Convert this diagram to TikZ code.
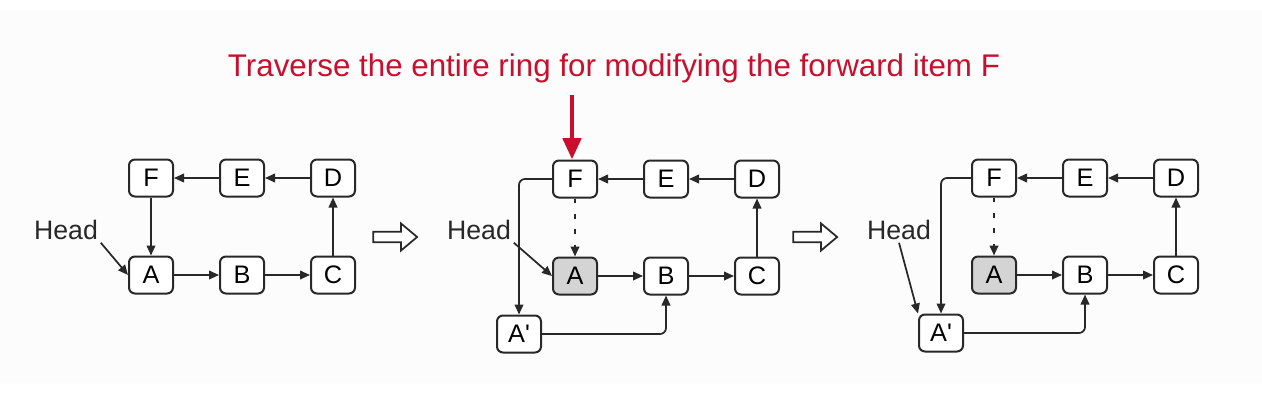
\documentclass[tikz,border=0pt]{standalone}
\usepackage{fontspec}
\setmainfont{Liberation Sans}
\usetikzlibrary{arrows.meta,positioning,calc,shapes.arrows}
\definecolor{ink}{RGB}{40,40,40}
\definecolor{paper}{RGB}{252,252,252}
\definecolor{shade}{RGB}{212,212,212}
\definecolor{cue}{RGB}{200,16,46}
\tikzset{
  item/.style={draw=ink,rounded corners=4.5pt,fill=white,line width=1.5pt,
    minimum width=33pt,minimum height=27.75pt,inner sep=0pt,
    font=\fontsize{19}{19}\selectfont},
  old/.style={item,fill=shade},
  arr/.style={-{Triangle[length=7.5pt,width=6.5pt]},line width=1.3pt,ink},
  link/.style={arr,rounded corners=4.5pt},
  skip/.style={arr,dash pattern=on 3.5pt off 8pt},
  lbl/.style={font=\fontsize{20}{20}\selectfont,text=ink,inner sep=2pt},
  go/.style={single arrow,draw=ink,line width=1.3pt,fill=white,
    minimum height=33pt,single arrow head extend=6.2pt,
    single arrow tip angle=80,inner sep=3.3pt},
  cuearr/.style={-{Triangle[length=16pt,width=13.5pt]},line width=3.5pt,cue},
}
\newcommand{\Aprime}{A\textquotesingle}

\begin{document}
\begin{tikzpicture}[x=0.75pt,y=-0.75pt,node distance=43.5pt and 33.75pt]
  \useasboundingbox (0,0) rectangle (1262,400);
  \fill[paper] (0,10) rectangle (1262,383);

  \node[text=cue,font=\fontsize{23.5}{24}\selectfont] (title) at (614,68)
    {Traverse the entire ring for modifying the forward item F};

  % ring before
  \node[item] (f1) at (151,178) {F};
  \node[item,right=of f1] (e1) {E};
  \node[item,right=of e1] (d1) {D};
  \node[item,below=of f1] (a1) {A};
  \node[item,right=of a1] (b1) {B};
  \node[item,right=of b1] (c1) {C};
  \node[lbl] (head1) at (66,230) {Head};
  \draw[arr] (a1) -- (b1);
  \draw[arr] (b1) -- (c1);
  \draw[arr] (c1) -- (d1);
  \draw[arr] (d1) -- (e1);
  \draw[arr] (e1) -- (f1);
  \draw[arr] (f1) -- (a1);
  \draw[arr] (head1.south east) -- (a1.west);

  \node[go] (go1) at (392,237) {};

  % copy A' spliced in
  \node[item] (f2) at (575,179) {F};
  \node[item,right=of f2] (e2) {E};
  \node[item,right=of e2] (d2) {D};
  \node[old,below=of f2] (a2) {A};
  \node[item,right=of a2] (b2) {B};
  \node[item,right=of b2] (c2) {C};
  \node[item] (ap2) at (519,334) {\Aprime};
  \node[lbl] (head2) at (479,230) {Head};
  \draw[arr] (a2) -- (b2);
  \draw[arr] (b2) -- (c2);
  \draw[arr] (c2) -- (d2);
  \draw[arr] (d2) -- (e2);
  \draw[arr] (e2) -- (f2);
  \draw[skip] (f2) -- (a2);
  \draw[link] (f2.west) -| (ap2.north);
  \draw[link] (ap2.east) -| (b2.south);
  \draw[arr] (head2.south east) -- (a2.west);
  \coordinate (probe) at (572,95);
  \draw[cuearr] (probe) -- (probe |- f2.north);

  \node[go] (go2) at (812,237) {};

  % head moved to A'
  \node[item] (f3) at (994,178) {F};
  \node[item,right=of f3] (e3) {E};
  \node[item,right=of e3] (d3) {D};
  \node[old,below=of f3] (a3) {A};
  \node[item,right=of a3] (b3) {B};
  \node[item,right=of b3] (c3) {C};
  \node[item] (ap3) at (941,333) {\Aprime};
  \node[lbl] (head3) at (899,230) {Head};
  \draw[arr] (a3) -- (b3);
  \draw[arr] (b3) -- (c3);
  \draw[arr] (c3) -- (d3);
  \draw[arr] (d3) -- (e3);
  \draw[arr] (e3) -- (f3);
  \draw[skip] (f3) -- (a3);
  \draw[link] (f3.west) -| (ap3.north);
  \draw[link] (ap3.east) -| (b3.south);
  \draw[arr] (head3.south) -- (ap3.north west);
\end{tikzpicture}
\end{document}
